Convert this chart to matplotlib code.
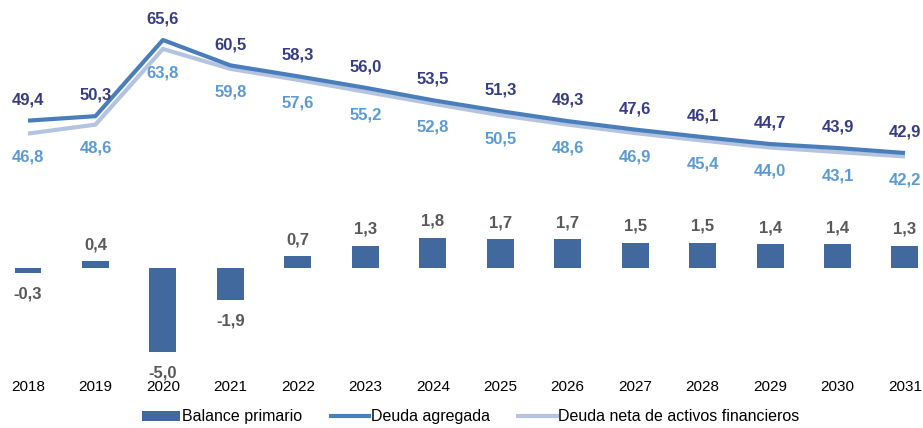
import matplotlib
matplotlib.use("Agg")
import matplotlib.pyplot as plt
from matplotlib.patches import Patch
from matplotlib.lines import Line2D

plt.rcParams['font.family'] = ['Liberation Sans', 'DejaVu Sans']

years = ["2018", "2019", "2020", "2021", "2022", "2023", "2024",
         "2025", "2026", "2027", "2028", "2029", "2030", "2031"]
balance = [-0.3, 0.4, -5.0, -1.9, 0.7, 1.3, 1.8, 1.7, 1.7, 1.5, 1.5, 1.4, 1.4, 1.3]
deuda_agregada = [49.4, 50.3, 65.6, 60.5, 58.3, 56.0, 53.5, 51.3, 49.3, 47.6, 46.1, 44.7, 43.9, 42.9]
deuda_neta = [46.8, 48.6, 63.8, 59.8, 57.6, 55.2, 52.8, 50.5, 48.6, 46.9, 45.4, 44.0, 43.1, 42.2]

c_bar = '#41699E'
c_agr = '#4A7EBB'
c_neta = '#B4C4E0'
c_lbl_agr = '#363C85'
c_lbl_neta = '#5B9BD5'
c_lbl_bar = '#595959'

def fmt(v):
    return f"{v:.1f}".replace('.', ',')

fig = plt.figure(figsize=(9.23, 4.28), dpi=100)
ax = fig.add_axes([0.0, 0.124, 1.0, 0.876])
ax2 = ax.twinx()

x = list(range(len(years)))

# lines (debt)
ax.plot(x, deuda_neta, color=c_neta, linewidth=3, solid_capstyle='butt', zorder=2)
ax.plot(x, deuda_agregada, color=c_agr, linewidth=3, solid_capstyle='butt', zorder=3)
ax.set_ylim(-1.67, 73.63)
ax.set_xlim(-0.415, 13.267)

for i in x:
    ax.annotate(fmt(deuda_agregada[i]), (i, deuda_agregada[i]), xytext=(0, 15),
                textcoords='offset points', ha='center', va='center',
                fontsize=12, fontweight='bold', color=c_lbl_agr)
    ax.annotate(fmt(deuda_neta[i]), (i, deuda_neta[i]), xytext=(0, -17),
                textcoords='offset points', ha='center', va='center',
                fontsize=12, fontweight='bold', color=c_lbl_neta)

# bars (primary balance)
ax2.bar(x, balance, width=0.4, color=c_bar, zorder=2)
ax2.set_ylim(-6.37, 15.95)
for i in x:
    off = 12 if balance[i] >= 0 else -15
    ax2.annotate(fmt(balance[i]), (i, balance[i]), xytext=(0, off),
                 textcoords='offset points', ha='center', va='center',
                 fontsize=12, fontweight='bold', color=c_lbl_bar)

for a in (ax, ax2):
    for s in a.spines.values():
        s.set_visible(False)
    a.set_yticks([])

ax.set_xticks(x)
ax.set_xticklabels(years, fontsize=11)
ax.tick_params(axis='x', length=0, pad=4)

handles = [
    Patch(facecolor=c_bar, edgecolor='none'),
    Line2D([0], [0], color=c_agr, linewidth=3),
    Line2D([0], [0], color=c_neta, linewidth=3),
]
labels = ["Balance primario", "Deuda agregada", "Deuda neta de activos financieros"]
fig.legend(handles, labels, loc='lower center', bbox_to_anchor=(0.51, -0.025), ncol=3,
           frameon=False, fontsize=11.5, handlelength=2.4, handleheight=0.6,
           handletextpad=0.1, columnspacing=1.8)

fig.savefig("out.png", dpi=100)
